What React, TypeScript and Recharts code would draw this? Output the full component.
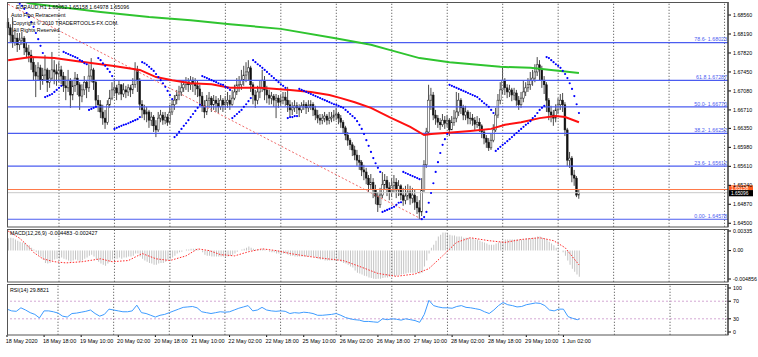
import React from 'react';
import { ComposedChart, Bar, Line, XAxis, YAxis, ReferenceLine } from 'recharts';

const FONT = '"Liberation Sans", Arial, sans-serif';
const FS = 5.3;
const TOTAL_SLOTS = 312;
const FIRST_OPEN = 1.6842;

const closes = [
  1.6831, 1.6817, 1.6803, 1.6811, 1.6798, 1.6807, 1.6811, 1.6792, 1.6784, 1.6778,
  1.6764, 1.6745, 1.6737, 1.6753, 1.6729, 1.6739, 1.6749, 1.6725, 1.6733, 1.6749,
  1.6745, 1.6741, 1.6749, 1.6737, 1.6718, 1.6714, 1.6729, 1.6700, 1.6718, 1.6733,
  1.6720, 1.6698, 1.6710, 1.6725, 1.6714, 1.6737, 1.6749, 1.6725, 1.6690, 1.6681,
  1.6667, 1.6655, 1.6647, 1.6681, 1.6694, 1.6710, 1.6714, 1.6704, 1.6720, 1.6702,
  1.6710, 1.6706, 1.6714, 1.6710, 1.6721, 1.6749, 1.6729, 1.6682, 1.6671, 1.6663,
  1.6667, 1.6651, 1.6657, 1.6640, 1.6632, 1.6655, 1.6661, 1.6651, 1.6657, 1.6647,
  1.6667, 1.6681, 1.6690, 1.6700, 1.6706, 1.6714, 1.6720, 1.6725, 1.6720, 1.6729,
  1.6723, 1.6718, 1.6712, 1.6698, 1.6679, 1.6667, 1.6690, 1.6694, 1.6681, 1.6690,
  1.6684, 1.6677, 1.6690, 1.6681, 1.6686, 1.6690, 1.6682, 1.6694, 1.6706, 1.6720,
  1.6720, 1.6729, 1.6739, 1.6745, 1.6753, 1.6720, 1.6700, 1.6690, 1.6706, 1.6714,
  1.6729, 1.6710, 1.6700, 1.6694, 1.6698, 1.6690, 1.6694, 1.6686, 1.6690, 1.6696,
  1.6690, 1.6681, 1.6671, 1.6675, 1.6679, 1.6675, 1.6671, 1.6679, 1.6682, 1.6675,
  1.6679, 1.6682, 1.6671, 1.6661, 1.6655, 1.6651, 1.6655, 1.6659, 1.6651, 1.6655,
  1.6657, 1.6661, 1.6663, 1.6655, 1.6647, 1.6636, 1.6622, 1.6612, 1.6603, 1.6593,
  1.6583, 1.6573, 1.6569, 1.6554, 1.6550, 1.6538, 1.6525, 1.6530, 1.6515, 1.6503,
  1.6486, 1.6505, 1.6525, 1.6534, 1.6519, 1.6511, 1.6523, 1.6530, 1.6515, 1.6523,
  1.6505, 1.6495, 1.6503, 1.6511, 1.6499, 1.6505, 1.6491, 1.6480, 1.6472, 1.6515,
  1.6564, 1.6628, 1.6690, 1.6700, 1.6661, 1.6655, 1.6647, 1.6642, 1.6651, 1.6645,
  1.6651, 1.6632, 1.6647, 1.6655, 1.6667, 1.6690, 1.6675, 1.6661, 1.6667, 1.6655,
  1.6655, 1.6651, 1.6643, 1.6647, 1.6640, 1.6628, 1.6616, 1.6608, 1.6597, 1.6612,
  1.6632, 1.6661, 1.6690, 1.6710, 1.6729, 1.6714, 1.6706, 1.6710, 1.6700, 1.6704,
  1.6690, 1.6681, 1.6694, 1.6706, 1.6714, 1.6720, 1.6729, 1.6733, 1.6745, 1.6759,
  1.6749, 1.6729, 1.6720, 1.6690, 1.6667, 1.6661, 1.6655, 1.6671, 1.6681, 1.6690,
  1.6681, 1.6632, 1.6573, 1.6577, 1.6544, 1.6538, 1.6505, 1.65096,
];

const highs = [
  1.6850, 1.6838, 1.6852, 1.6827, 1.6821, 1.6821, 1.6823, 1.6815, 1.6803, 1.6798,
  1.6788, 1.6772, 1.6759, 1.6764, 1.6759, 1.6753, 1.6778, 1.6753, 1.6749, 1.6784,
  1.6768, 1.6760, 1.6764, 1.6757, 1.6745, 1.6737, 1.6749, 1.6733, 1.6729, 1.6745,
  1.6741, 1.6725, 1.6721, 1.6737, 1.6729, 1.6760, 1.6772, 1.6753, 1.6729, 1.6700,
  1.6690, 1.6681, 1.6671, 1.6690, 1.6710, 1.6725, 1.6733, 1.6720, 1.6729, 1.6721,
  1.6723, 1.6718, 1.6721, 1.6720, 1.6733, 1.6764, 1.6757, 1.6733, 1.6690, 1.6681,
  1.6677, 1.6671, 1.6667, 1.6661, 1.6651, 1.6667, 1.6671, 1.6667, 1.6667, 1.6663,
  1.6681, 1.6690, 1.6700, 1.6710, 1.6718, 1.6725, 1.6729, 1.6735, 1.6733, 1.6737,
  1.6735, 1.6733, 1.6729, 1.6720, 1.6706, 1.6690, 1.6700, 1.6706, 1.6698, 1.6700,
  1.6698, 1.6694, 1.6700, 1.6694, 1.6698, 1.6706, 1.6700, 1.6710, 1.6720, 1.6733,
  1.6737, 1.6749, 1.6757, 1.6764, 1.6768, 1.6757, 1.6725, 1.6710, 1.6718, 1.6729,
  1.6749, 1.6737, 1.6718, 1.6710, 1.6706, 1.6702, 1.6702, 1.6700, 1.6700, 1.6706,
  1.6706, 1.6716, 1.6690, 1.6686, 1.6690, 1.6686, 1.6682, 1.6686, 1.6690, 1.6686,
  1.6690, 1.6690, 1.6686, 1.6679, 1.6671, 1.6663, 1.6663, 1.6667, 1.6663, 1.6667,
  1.6667, 1.6671, 1.6675, 1.6667, 1.6661, 1.6651, 1.6640, 1.6628, 1.6616, 1.6608,
  1.6601, 1.6593, 1.6583, 1.6573, 1.6564, 1.6558, 1.6544, 1.6546, 1.6538, 1.6525,
  1.6511, 1.6519, 1.6550, 1.6546, 1.6542, 1.6530, 1.6538, 1.6544, 1.6538, 1.6534,
  1.6526, 1.6519, 1.6523, 1.6526, 1.6523, 1.6519, 1.6515, 1.6503, 1.6495, 1.6538,
  1.6573, 1.6636, 1.6720, 1.6714, 1.6706, 1.6671, 1.6661, 1.6655, 1.6663, 1.6659,
  1.6661, 1.6655, 1.6659, 1.6671, 1.6706, 1.6704, 1.6694, 1.6681, 1.6679, 1.6671,
  1.6667, 1.6663, 1.6657, 1.6659, 1.6655, 1.6643, 1.6632, 1.6622, 1.6616, 1.6624,
  1.6643, 1.6675, 1.6702, 1.6725, 1.6755, 1.6733, 1.6721, 1.6720, 1.6714, 1.6714,
  1.6710, 1.6698, 1.6706, 1.6729, 1.6725, 1.6733, 1.6745, 1.6749, 1.6760, 1.6774,
  1.6768, 1.6757, 1.6737, 1.6725, 1.6694, 1.6679, 1.6671, 1.6682, 1.6694, 1.6702,
  1.6704, 1.6686, 1.6636, 1.6589, 1.6581, 1.6554, 1.6542, 1.65158,
];

const lows = [
  1.6817, 1.6803, 1.6792, 1.6796, 1.6784, 1.6788, 1.6798, 1.6778, 1.6772, 1.6764,
  1.6749, 1.6729, 1.6696, 1.6729, 1.6710, 1.6720, 1.6729, 1.6706, 1.6714, 1.6729,
  1.6721, 1.6718, 1.6725, 1.6721, 1.6706, 1.6690, 1.6706, 1.6675, 1.6690, 1.6706,
  1.6700, 1.6671, 1.6686, 1.6700, 1.6694, 1.6706, 1.6725, 1.6710, 1.6679, 1.6667,
  1.6655, 1.6642, 1.6634, 1.6642, 1.6675, 1.6690, 1.6698, 1.6690, 1.6700, 1.6690,
  1.6696, 1.6694, 1.6698, 1.6696, 1.6702, 1.6714, 1.6706, 1.6671, 1.6655, 1.6651,
  1.6647, 1.6636, 1.6640, 1.6628, 1.6618, 1.6628, 1.6647, 1.6642, 1.6643, 1.6640,
  1.6643, 1.6661, 1.6671, 1.6682, 1.6690, 1.6698, 1.6706, 1.6710, 1.6706, 1.6710,
  1.6706, 1.6700, 1.6696, 1.6682, 1.6667, 1.6655, 1.6661, 1.6675, 1.6667, 1.6671,
  1.6667, 1.6665, 1.6671, 1.6667, 1.6671, 1.6675, 1.6671, 1.6679, 1.6690, 1.6700,
  1.6706, 1.6710, 1.6718, 1.6725, 1.6729, 1.6706, 1.6682, 1.6675, 1.6682, 1.6694,
  1.6706, 1.6690, 1.6684, 1.6681, 1.6682, 1.6677, 1.6655, 1.6675, 1.6679, 1.6682,
  1.6679, 1.6667, 1.6659, 1.6661, 1.6667, 1.6663, 1.6657, 1.6665, 1.6671, 1.6663,
  1.6667, 1.6671, 1.6659, 1.6651, 1.6645, 1.6642, 1.6643, 1.6647, 1.6642, 1.6643,
  1.6647, 1.6649, 1.6651, 1.6643, 1.6636, 1.6624, 1.6612, 1.6601, 1.6593, 1.6581,
  1.6573, 1.6562, 1.6554, 1.6542, 1.6534, 1.6526, 1.6511, 1.6515, 1.6499, 1.6487,
  1.6472, 1.6480, 1.6499, 1.6515, 1.6503, 1.6495, 1.6501, 1.6511, 1.6499, 1.6503,
  1.6495, 1.6484, 1.6487, 1.6495, 1.6486, 1.6489, 1.6476, 1.6468, 1.64578, 1.6464,
  1.6511, 1.6558, 1.6622, 1.6671, 1.6651, 1.6642, 1.6636, 1.6632, 1.6638, 1.6634,
  1.6638, 1.6620, 1.6636, 1.6640, 1.6647, 1.6659, 1.6663, 1.6651, 1.6651, 1.6643,
  1.6643, 1.6640, 1.6632, 1.6636, 1.6628, 1.6616, 1.6604, 1.6597, 1.6591, 1.6593,
  1.6608, 1.6628, 1.6655, 1.6682, 1.6702, 1.6700, 1.6694, 1.6696, 1.6688, 1.6690,
  1.6679, 1.6671, 1.6675, 1.6686, 1.6698, 1.6706, 1.6710, 1.6718, 1.6725, 1.6737,
  1.6729, 1.6714, 1.6702, 1.6667, 1.6651, 1.6647, 1.6640, 1.6647, 1.6663, 1.6671,
  1.6667, 1.6620, 1.6562, 1.6558, 1.6530, 1.6523, 1.6501, 1.64978,
];

const parabolicSar = [
  1.6897, 1.6893, 1.6889, 1.6885, 1.6881, 1.6878, 1.6874, 1.6868, 1.6860, 1.6852,
  1.6842, 1.6833, 1.6821, 1.6809, 1.6796, 1.6782, 1.6696, 1.6698, 1.6700, 1.6702,
  1.6706, 1.6710, 1.6714, 1.6718, 1.6784, 1.6782, 1.6780, 1.6778, 1.6776, 1.6774,
  1.6772, 1.6768, 1.6766, 1.6762, 1.6760, 1.6671, 1.6673, 1.6675, 1.6677, 1.6772,
  1.6768, 1.6762, 1.6757, 1.6751, 1.6745, 1.6737, 1.6634, 1.6636, 1.6638, 1.6640,
  1.6642, 1.6643, 1.6645, 1.6647, 1.6649, 1.6651, 1.6653, 1.6657, 1.6764, 1.6762,
  1.6759, 1.6755, 1.6751, 1.6747, 1.6741, 1.6735, 1.6729, 1.6723, 1.6716, 1.6708,
  1.6700, 1.6692, 1.6618, 1.6622, 1.6628, 1.6634, 1.6640, 1.6645, 1.6651, 1.6657,
  1.6663, 1.6669, 1.6675, 1.6681, 1.6737, 1.6735, 1.6733, 1.6731, 1.6729, 1.6727,
  1.6725, 1.6723, 1.6721, 1.6720, 1.6716, 1.6714, 1.6710, 1.6655, 1.6659, 1.6663,
  1.6667, 1.6671, 1.6677, 1.6682, 1.6688, 1.6694, 1.6768, 1.6764, 1.6760, 1.6757,
  1.6753, 1.6749, 1.6745, 1.6741, 1.6737, 1.6733, 1.6729, 1.6725, 1.6721, 1.6718,
  1.6714, 1.6655, 1.6657, 1.6657, 1.6659, 1.6659, 1.6712, 1.6710, 1.6708, 1.6706,
  1.6704, 1.6702, 1.6700, 1.6698, 1.6696, 1.6694, 1.6692, 1.6690, 1.6688, 1.6686,
  1.6684, 1.6682, 1.6681, 1.6679, 1.6677, 1.6675, 1.6671, 1.6667, 1.6663, 1.6659,
  1.6655, 1.6649, 1.6642, 1.6634, 1.6624, 1.6612, 1.6601, 1.6589, 1.6577, 1.6567,
  1.6558, 1.6550, 1.6472, 1.6474, 1.6476, 1.6478, 1.6480, 1.6482, 1.6486, 1.6490,
  1.6491, 1.6550, 1.6548, 1.6546, 1.6544, 1.6542, 1.6540, 1.6538, 1.6536, 1.6458,
  1.6462, 1.6472, 1.6490, 1.6509, 1.6528, 1.6550, 1.6569, 1.6587, 1.6603, 1.6614,
  1.6624, 1.6720, 1.6718, 1.6716, 1.6714, 1.6712, 1.6710, 1.6708, 1.6706, 1.6704,
  1.6702, 1.6700, 1.6698, 1.6696, 1.6692, 1.6688, 1.6684, 1.6681, 1.6677, 1.6671,
  1.6665, 1.6591, 1.6595, 1.6599, 1.6603, 1.6606, 1.6610, 1.6614, 1.6618, 1.6622,
  1.6626, 1.6630, 1.6634, 1.6638, 1.6642, 1.6645, 1.6649, 1.6655, 1.6659, 1.6665,
  1.6671, 1.6675, 1.6679, 1.6774, 1.6772, 1.6768, 1.6764, 1.6760, 1.6757, 1.6753,
  1.6747, 1.6741, 1.6733, 1.6723, 1.6712, 1.6698, 1.6682, 1.6665,
];

const macdMain = [
  0.0021, 0.0022, 0.0021, 0.0019, 0.0017, 0.0015, 0.0014, 0.0014, 0.001, 0.0009,
  0.0005, 0.0002, -0.0003, -0.0007, -0.001, -0.0015, -0.0021, -0.0022, -0.0021, -0.0017,
  -0.0015, -0.0014, -0.0014, -0.0012, -0.0014, -0.0015, -0.0017, -0.0019, -0.0017, -0.0015,
  -0.0017, -0.0019, -0.0017, -0.0014, -0.0012, -0.0009, -0.0007, -0.001, -0.0015, -0.0019,
  -0.0022, -0.0024, -0.0026, -0.0022, -0.0019, -0.0015, -0.0014, -0.0014, -0.0012, -0.0014,
  -0.0012, -0.0012, -0.001, -0.001, -0.0009, -0.0005, -0.0005, -0.001, -0.0014, -0.0017,
  -0.0019, -0.0021, -0.0022, -0.0024, -0.0024, -0.0022, -0.0021, -0.0021, -0.0019, -0.0017,
  -0.0015, -0.0012, -0.0009, -0.0005, -0.0003, -0.0002, 0, 0.0002, 0.0002, 0.0003,
  0.0003, 0.0003, 0.0002, 0, -0.0003, -0.0007, -0.0009, -0.0009, -0.001, -0.001,
  -0.001, -0.001, -0.001, -0.001, -0.001, -0.001, -0.0009, -0.0007, -0.0005, -0.0002,
  0, 0.0002, 0.0003, 0.0005, 0.0007, 0.0005, 0.0003, 0.0002, 0.0002, 0.0002,
  0.0003, 0.0002, 0, -0.0002, -0.0003, -0.0003, -0.0005, -0.0005, -0.0005, -0.0005,
  -0.0005, -0.0007, -0.0009, -0.0009, -0.001, -0.001, -0.001, -0.001, -0.001, -0.001,
  -0.001, -0.001, -0.001, -0.0012, -0.0014, -0.0015, -0.0015, -0.0017, -0.0017, -0.0017,
  -0.0017, -0.0017, -0.0017, -0.0017, -0.0019, -0.0021, -0.0022, -0.0024, -0.0027, -0.0029,
  -0.0034, -0.0038, -0.0039, -0.0041, -0.0043, -0.0044, -0.0046, -0.0047, -0.0048, -0.004856,
  -0.0048, -0.0048, -0.0047, -0.0046, -0.0046, -0.0045, -0.0044, -0.0044, -0.0043, -0.0042,
  -0.0041, -0.004, -0.0039, -0.0038, -0.0038, -0.0038, -0.0038, -0.0038, -0.0039, -0.0038,
  -0.0027, -0.0017, -0.0005, 0.0005, 0.001, 0.0017, 0.0024, 0.0027, 0.0031, 0.0031,
  0.0029, 0.0027, 0.0026, 0.0026, 0.0024, 0.0024, 0.0024, 0.0022, 0.0022, 0.0022,
  0.0021, 0.0021, 0.0019, 0.0019, 0.0017, 0.0015, 0.0014, 0.0012, 0.001, 0.001,
  0.001, 0.0012, 0.0014, 0.0015, 0.0017, 0.0019, 0.0019, 0.0019, 0.0019, 0.0019,
  0.0019, 0.0019, 0.0019, 0.0019, 0.0021, 0.0021, 0.0021, 0.0022, 0.0022, 0.0024,
  0.0024, 0.0022, 0.0021, 0.0019, 0.0015, 0.0012, 0.0009, 0.0005, 0.0002, 0,
  -0.0003, -0.0009, -0.0017, -0.0024, -0.0031, -0.0036, -0.0041, -0.004483,
];

// [bar, value]
const macdSignal: [number, number][] = [
  [0, 0.00335], [5, 0.0021], [8, 0.001], [11, -0.0003], [15, -0.0014], [20, -0.0019],
  [25, -0.0021], [32, -0.0019], [40, -0.0014], [45, -0.0019], [52, -0.0017], [58, -0.0005],
  [64, -0.0014], [70, -0.0017], [77, -0.0009], [82, 0.0003], [87, 0], [92, -0.0007],
  [98, -0.0009], [104, -0.0002], [110, 0.0003], [116, 0], [122, -0.0005], [130, -0.001],
  [138, -0.0014], [145, -0.0017], [152, -0.0027], [160, -0.0039], [168, -0.0044], [176, -0.004],
  [182, -0.0031], [188, -0.0009], [194, 0.0014], [200, 0.0022], [208, 0.0017], [215, 0.0014],
  [222, 0.0019], [230, 0.0022], [236, 0.0017], [241, 0.0005], [247, -0.002427],
];

const rsi14: [number, number][] = [
  [0, 52], [2, 48], [4, 47], [6, 55], [8, 50], [10, 44], [12, 40], [14, 32], [16, 48], [18, 48],
  [20, 46], [22, 43], [24, 36], [26, 34], [28, 42], [30, 43], [32, 45], [34, 47], [36, 50], [38, 42],
  [40, 36], [42, 40], [44, 52], [46, 50], [48, 48], [50, 46], [52, 46], [54, 48], [56, 61], [58, 44],
  [60, 42], [62, 38], [64, 34], [66, 38], [68, 40], [70, 44], [72, 48], [74, 52], [76, 56], [78, 57],
  [80, 58], [82, 55], [84, 46], [86, 44], [88, 42], [90, 44], [92, 46], [94, 45], [96, 46], [98, 50],
  [100, 54], [102, 57], [104, 60], [106, 48], [108, 50], [110, 56], [112, 50], [114, 48], [116, 47], [118, 48],
  [120, 47], [122, 42], [124, 44], [126, 43], [128, 45], [130, 44], [132, 42], [134, 38], [136, 38], [138, 39],
  [140, 40], [142, 42], [144, 38], [146, 33], [148, 30], [150, 28], [152, 27], [154, 24], [156, 24], [158, 23],
  [160, 22], [162, 30], [164, 28], [166, 30], [168, 29], [170, 27], [172, 30], [174, 28], [176, 26], [178, 22],
  [180, 40], [182, 72], [184, 60], [186, 57], [188, 55], [190, 55], [192, 54], [194, 58], [196, 60], [198, 56],
  [200, 55], [202, 53], [204, 51], [206, 46], [208, 42], [210, 50], [212, 60], [214, 67], [216, 62], [218, 60],
  [220, 57], [222, 58], [224, 62], [226, 64], [228, 66], [230, 65], [232, 60], [234, 50], [236, 48], [238, 52],
  [240, 52], [242, 35], [244, 31], [246, 28], [247, 29.8821],
];

const ma50: [number, number][] = [
  [0, 1.6768], [10, 1.6774], [20, 1.6772], [30, 1.6766], [45, 1.6757], [57, 1.6749], [64, 1.6735],
  [71, 1.6729], [79, 1.6723], [88, 1.6721], [96, 1.6714], [109, 1.6714], [122, 1.671], [131, 1.6706],
  [139, 1.67], [144, 1.6694], [150, 1.6686], [157, 1.6675], [165, 1.6657], [174, 1.6638], [180, 1.6622],
  [183, 1.6624], [189, 1.6626], [200, 1.663], [209, 1.6634], [215, 1.6642], [222, 1.6647], [230, 1.6655],
  [237, 1.6659], [241, 1.6657], [247, 1.6647],
];

const ma200: [number, number][] = [
  [0, 1.6893], [9, 1.6879], [18, 1.6874], [40, 1.6862], [61, 1.6852], [79, 1.6846], [96, 1.6838],
  [118, 1.6829], [141, 1.6811], [157, 1.6798], [165, 1.6788], [178, 1.6772], [191, 1.6764],
  [213, 1.6755], [226, 1.6753], [239, 1.6747], [247, 1.6743],
];

const fibLevels = [
  { tag: '78.6-', value: 1.68023 },
  { tag: '61.8', value: 1.67287 },
  { tag: '50.0-', value: 1.6677 },
  { tag: '38.2-', value: 1.66252 },
  { tag: '23.6-', value: 1.65612 },
  { tag: '0.00-', value: 1.64578 },
];
const trendStart = { bar: 0, value: 1.6877 };
const trendEnd = { bar: 179, value: 1.64578 };
const askPrice = 1.65158;
const bidPrice = 1.65096;

const priceTicks = [1.6856, 1.6819, 1.6782, 1.6745, 1.6708, 1.6671, 1.6635, 1.6598, 1.6561, 1.6524, 1.6487, 1.645];
const macdTicks = [0.00335, 0, -0.004856];
const macdTickLabels = ['0.00335', '0.00', '-0.004856'];
const rsiTicks = [100, 70, 30, 0];
const rsiLevels = [70, 30];

const timeLabels = [
  '18 May 2020', '18 May 18:00', '19 May 10:00', '20 May 02:00', '20 May 18:00', '21 May 10:00',
  '22 May 02:00', '22 May 18:00', '25 May 10:00', '26 May 02:00', '26 May 18:00', '27 May 10:00',
  '28 May 02:00', '28 May 18:00', '29 May 10:00', '1 Jun 02:00',
];
const timeLabelBars = [0, 16, 32, 48, 64, 80, 96, 112, 128, 144, 160, 176, 192, 208, 224, 240];
const dayGridBars = [22, 46, 70, 94, 118, 142, 166, 190, 214, 238, 262, 286, 310];

// ---------- table for the library ----------
const toMap = (pairs: [number, number][]) => new Map(pairs.map(([b, v]) => [b, v]));
const sigMap = toMap(macdSignal);
const rsiMap = toMap(rsi14);
const ma50Map = toMap(ma50);
const ma200Map = toMap(ma200);

const rows = Array.from({ length: TOTAL_SLOTS }, (_, i) => {
  const has = i < closes.length;
  const o = has ? (i === 0 ? FIRST_OPEN : closes[i - 1]) : null;
  const c = has ? closes[i] : null;
  const hi = has ? Math.max(highs[i], o as number, c as number) : null;
  const lo = has ? Math.min(lows[i], o as number, c as number) : null;
  return {
    i,
    o,
    c,
    range: has ? [lo, hi] : null,
    sar: has ? parabolicSar[i] : null,
    ma50: ma50Map.has(i) ? ma50Map.get(i) : null,
    ma200: ma200Map.has(i) ? ma200Map.get(i) : null,
    macd: has ? macdMain[i] : null,
    sig: sigMap.has(i) ? sigMap.get(i) : null,
    rsi: rsiMap.has(i) ? rsiMap.get(i) : null,
  };
});

const FIB_COLOR = '#4b5cf0';
const GRID_COLOR = '#707070';

const Candle = (props: any) => {
  const { x, y, width, height, payload } = props;
  if (!payload || payload.range == null || x == null || y == null) return null;
  const h = height || 0;
  const top = Math.min(y, y + h);
  const bot = Math.max(y, y + h);
  const [lo, hi] = payload.range;
  const span = hi - lo || 1e-9;
  const py = (v: number) => bot - ((v - lo) / span) * (bot - top);
  const cx = x + width / 2;
  const yo = py(payload.o);
  const yc = py(payload.c);
  const bTop = Math.min(yo, yc);
  const bH = Math.max(Math.abs(yo - yc), 0.7);
  const bull = payload.c >= payload.o;
  return (
    <g>
      <line x1={cx} x2={cx} y1={top} y2={bot} stroke="#1c1c1c" strokeWidth={0.8} />
      <rect x={cx - 0.9} y={bTop} width={1.8} height={bH} fill={bull ? '#ffffff' : '#111111'} stroke="#1c1c1c" strokeWidth={0.5} />
    </g>
  );
};

const fibLabel = (text: string) => (p: any) => {
  const vb = p && p.viewBox ? p.viewBox : p;
  if (!vb || vb.x == null) return null;
  return (
    <text x={vb.x + vb.width - 1} y={vb.y - 1.3} textAnchor="end" fontSize={FS} fill={FIB_COLOR} fontFamily={FONT}>
      {text}
    </text>
  );
};

// price tag on the right axis; dy = offset of box top from the line, boxH = box height, base = text baseline offset
const priceBox = (text: string, bg: string, dy: number, boxH: number, base: number) => (p: any) => {
  const vb = p && p.viewBox ? p.viewBox : p;
  if (!vb || vb.x == null) return null;
  const x0 = vb.x + vb.width + 1;
  return (
    <g>
      <rect x={x0} y={vb.y + dy} width={24} height={boxH} fill={bg} />
      <text x={x0 + 2} y={vb.y + base} fontSize={4.8} fill="#ffffff" fontFamily={FONT}>
        {text}
      </text>
    </g>
  );
};

const axisTick = { fontSize: FS, fill: '#000', fontFamily: FONT };

const TimeTick = (p: any) => {
  const idx = timeLabelBars.indexOf(Number(p.payload && p.payload.value));
  if (idx < 0) return null;
  return (
    <text x={p.x - 1.2} y={p.y + 4} textAnchor="start" fontSize={FS + 0.2} fill="#000" fontFamily={FONT}>
      {timeLabels[idx]}
    </text>
  );
};

const gridLines = (keyPrefix: string) =>
  dayGridBars.map((b) => (
    <ReferenceLine key={keyPrefix + b} x={b} stroke={GRID_COLOR} strokeDasharray="1.3 1.7" strokeWidth={1} />
  ));

const layer: React.CSSProperties = { position: 'absolute', left: 0, top: 0 };

export default function App() {
  return (
    <div style={{ position: 'absolute', left: 0, top: 0, width: 758, height: 357, background: '#ffffff', overflow: 'hidden' }}>
      {/* main price pane */}
      <div style={layer}>
        <ComposedChart width={758} height={357} data={rows} margin={{ top: 2, right: 0, bottom: 130, left: 7 }} barCategoryGap={0}>
          <XAxis dataKey="i" hide />
          <YAxis
            orientation="right"
            width={30}
            domain={[1.64427, 1.68814]}
            allowDataOverflow
            ticks={priceTicks}
            interval={0}
            tickFormatter={(v: number) => v.toFixed(5)}
            tick={axisTick}
            tickSize={3}
            tickMargin={2}
            axisLine={{ stroke: '#000' }}
            tickLine={{ stroke: '#000' }}
          />
          {gridLines('m')}
          {fibLevels.map((f) => (
            <ReferenceLine
              key={f.tag}
              y={f.value}
              stroke={FIB_COLOR}
              strokeWidth={1.2}
              label={fibLabel(`${f.tag} ${f.value.toFixed(5)}`)}
            />
          ))}
          <ReferenceLine
            segment={[{ x: trendStart.bar, y: trendStart.value }, { x: trendEnd.bar, y: trendEnd.value }]}
            stroke="#f06a6a"
            strokeDasharray="2 2"
            strokeWidth={1}
          />
          <ReferenceLine y={bidPrice} stroke="#c8c8c8" strokeWidth={1} />
          <ReferenceLine y={askPrice} stroke="#ff7a4a" strokeWidth={1} />
          <Line dataKey="ma200" stroke="#2fc42f" strokeWidth={2} dot={false} activeDot={false} connectNulls isAnimationActive={false} />
          <Line dataKey="ma50" stroke="#ff1010" strokeWidth={2} dot={false} activeDot={false} connectNulls isAnimationActive={false} />
          <Bar dataKey="range" shape={Candle} isAnimationActive={false} />
          <Line
            dataKey="sar"
            stroke="none"
            dot={{ r: 1.1, fill: '#0000ff', stroke: 'none', strokeWidth: 0 }}
            activeDot={false}
            isAnimationActive={false}
          />
          <ReferenceLine y={askPrice} stroke="none" label={priceBox(askPrice.toFixed(5), '#ff5a1e', -4.2, 5, 0.2)} />
          <ReferenceLine y={bidPrice} stroke="none" label={priceBox(bidPrice.toFixed(5), '#000000', -2.6, 6.2, 2.4)} />
        </ComposedChart>
      </div>

      {/* MACD pane */}
      <div style={layer}>
        <ComposedChart width={758} height={357} data={rows} margin={{ top: 229, right: 0, bottom: 75, left: 7 }} barCategoryGap={0}>
          <XAxis dataKey="i" hide />
          <YAxis
            orientation="right"
            width={30}
            domain={[-0.005368, 0.003693]}
            allowDataOverflow
            ticks={macdTicks}
            interval={0}
            tickFormatter={(v: number) => {
              const k = macdTicks.indexOf(v);
              return k >= 0 ? macdTickLabels[k] : String(v);
            }}
            tick={axisTick}
            tickSize={3}
            tickMargin={2}
            axisLine={{ stroke: '#000' }}
            tickLine={{ stroke: '#000' }}
          />
          {gridLines('d')}
          <Bar dataKey="macd" fill="#c4c4c4" barSize={1} isAnimationActive={false} />
          <Line dataKey="sig" stroke="#ff2a2a" strokeWidth={1} strokeDasharray="1.5 1.5" dot={false} activeDot={false} connectNulls isAnimationActive={false} />
        </ComposedChart>
      </div>

      {/* RSI pane */}
      <div style={layer}>
        <ComposedChart width={758} height={357} data={rows} margin={{ top: 284, right: 0, bottom: 10, left: 7 }}>
          <XAxis
            dataKey="i"
            ticks={timeLabelBars}
            interval={0}
            height={12}
            tickSize={2}
            axisLine={false}
            tickLine={{ stroke: '#000' }}
            tick={TimeTick}
          />
          <YAxis
            orientation="right"
            width={30}
            domain={[-6.8, 109.1]}
            allowDataOverflow
            ticks={rsiTicks}
            interval={0}
            tick={axisTick}
            tickSize={3}
            tickMargin={2}
            axisLine={{ stroke: '#000' }}
            tickLine={{ stroke: '#000' }}
          />
          {gridLines('r')}
          {rsiLevels.map((v) => (
            <ReferenceLine key={v} y={v} stroke="#d4a8d4" strokeDasharray="2 2" strokeWidth={1} />
          ))}
          <Line dataKey="rsi" stroke="#3d9bff" strokeWidth={1} dot={false} activeDot={false} connectNulls isAnimationActive={false} />
        </ComposedChart>
      </div>

      {/* frames and captions */}
      <svg width={758} height={357} style={{ ...layer, pointerEvents: 'none' }}>
        <rect x={7.5} y={2.5} width={720.5} height={224.5} fill="none" stroke="#555" strokeWidth={1} />
        <rect x={7.5} y={229.5} width={720.5} height={52.5} fill="none" stroke="#555" strokeWidth={1} />
        <rect x={7.5} y={284.5} width={720.5} height={50.5} fill="none" stroke="#555" strokeWidth={1} />
        <g fontFamily={FONT} fontSize={FS} fill="#000">
          <text x={16} y={8.5}>EURAUD,H1  1.65052 1.65158 1.64978 1.65096</text>
          <text x={11} y={17}>Auto Fibo Retracement</text>
          <text x={12.5} y={25}>Copyright © 2010 TRADERTOOLS-FX.COM.</text>
          <text x={13} y={31.5}>All Rights Reserved.</text>
          <text x={10} y={234.5}>MACD(12,26,9) -0.004483 -0.002427</text>
          <text x={10} y={291.5}>RSI(14) 29.8821</text>
        </g>
      </svg>
    </div>
  );
}
